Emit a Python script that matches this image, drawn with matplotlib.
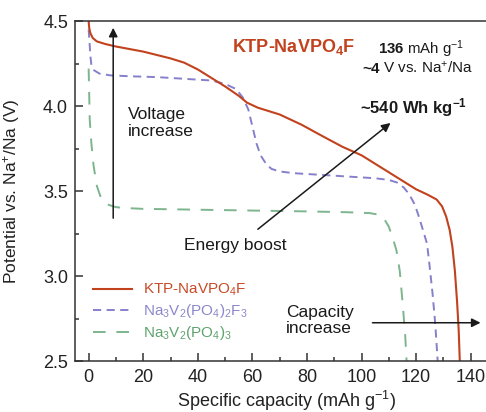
import numpy as np
import matplotlib
matplotlib.use("Agg")
import matplotlib.pyplot as plt

plt.rcParams['font.family'] = ['Liberation Sans', 'DejaVu Sans']
plt.rcParams['mathtext.fontset'] = 'custom'
plt.rcParams['mathtext.rm'] = 'Liberation Sans'
plt.rcParams['mathtext.bf'] = 'Liberation Sans:bold'
plt.rcParams['mathtext.it'] = 'Liberation Sans:italic'
plt.rcParams['mathtext.default'] = 'regular'

# KTP-NaVPO4F discharge curve
ktp_cap = [0, 0.2, 0.6, 1.5, 3, 6, 10, 20, 30, 35, 40, 45, 50, 55, 58, 62, 70, 78, 86, 93,
           100, 106, 111, 116, 120, 124, 127.5, 129.5, 131, 132.3, 133.3, 134.2, 135, 135.6, 136]
ktp_volt = [4.50, 4.46, 4.43, 4.40, 4.38, 4.365, 4.35, 4.32, 4.28, 4.255, 4.215, 4.165, 4.115,
            4.06, 4.02, 3.99, 3.95, 3.89, 3.82, 3.76, 3.71, 3.65, 3.60, 3.55, 3.51, 3.48, 3.45,
            3.41, 3.35, 3.27, 3.17, 3.03, 2.85, 2.68, 2.50]

# Na3V2(PO4)2F3
nvpf_cap = [0, 0.3, 0.6, 1, 2, 4, 8, 15, 25, 35, 45, 50, 54, 56.5, 58.5, 60, 61.5, 63, 65, 67,
            70, 75, 85, 95, 105, 110, 113, 115.5, 117.5, 119.5, 121, 122.5, 124, 125, 126, 127, 127.9]
nvpf_volt = [4.45, 4.38, 4.30, 4.24, 4.21, 4.19, 4.18, 4.175, 4.17, 4.16, 4.15, 4.13, 4.10, 4.05,
             3.98, 3.88, 3.78, 3.71, 3.66, 3.63, 3.615, 3.605, 3.595, 3.585, 3.575, 3.565, 3.55,
             3.52, 3.48, 3.42, 3.35, 3.27, 3.19, 3.05, 2.90, 2.72, 2.50]

# Na3V2(PO4)3
nvp_cap = [0, 0.4, 1, 1.8, 3, 4.5, 7, 10, 13, 20, 40, 60, 80, 95, 103, 106.5, 108.5, 110,
           111.5, 112.8, 114, 115, 116, 116.5]
nvp_volt = [4.22, 3.92, 3.78, 3.65, 3.53, 3.46, 3.42, 3.405, 3.40, 3.395, 3.39, 3.385, 3.38,
            3.375, 3.37, 3.36, 3.33, 3.29, 3.22, 3.15, 3.03, 2.85, 2.65, 2.50]

labels = ['KTP-NaVPO$_4$F', 'Na$_3$V$_2$(PO$_4$)$_2$F$_3$', 'Na$_3$V$_2$(PO$_4$)$_3$']
red, purple, green = '#c2421d', '#8580cc', '#7db58e'

fig = plt.figure(figsize=(4.86, 4.12), dpi=100)
ax = fig.add_axes([75/486, 51/412, 423/486, 340/412])

l3, = ax.plot(nvp_cap, nvp_volt, color=green, lw=1.4, dashes=(6.5, 5.5), label=labels[2])
l2, = ax.plot(nvpf_cap, nvpf_volt, color=purple, lw=1.4, dashes=(4.2, 2.8), label=labels[1])
l1, = ax.plot(ktp_cap, ktp_volt, color=red, lw=1.5, label=labels[0])

ax.set_xlim(-5, 150)
ax.set_ylim(2.5, 4.5)
ax.set_xticks(np.arange(0, 160, 20))
ax.set_xticks(np.arange(10, 150, 20), minor=True)
ax.set_yticks([2.5, 3.0, 3.5, 4.0, 4.5])
ax.set_yticks([2.75, 3.25, 3.75, 4.25], minor=True)
ax.tick_params(which='both', direction='in', top=False, right=False, labelsize=13,
               color='#333333', labelcolor='#222222')
ax.tick_params(which='major', length=6, width=1.1)
ax.tick_params(which='minor', length=3, width=1.1)
ax.tick_params(axis='x', pad=6)
ax.tick_params(axis='y', pad=5)
for s in ax.spines.values():
    s.set_color('#333333')
    s.set_linewidth(1.1)

ax.set_xlabel('Specific capacity (mAh g$^{-1}$)', fontsize=13, color='#222222', labelpad=1.5)
ax.set_ylabel('Potential vs. Na$^{+}$/Na (V)', fontsize=12.5, color='#222222')
ax.yaxis.set_label_coords(-0.125, 0.5)

leg = ax.legend(handles=[l1, l2, l3], loc='center left', bbox_to_anchor=(0.043, 0.144),
                frameon=False, fontsize=11, handlelength=2.55, handletextpad=0.7,
                labelspacing=0.25, borderpad=0, borderaxespad=0)
for t, c in zip(leg.get_texts(), ['#c84a28', '#8c88cc', '#5fa36f']):
    t.set_color(c)

arrow = dict(arrowstyle='-|>', color='#1a1a1a', lw=1.1, mutation_scale=13, shrinkA=0, shrinkB=0)
ax.annotate('', xy=(9, 4.46), xytext=(9, 3.34), arrowprops=arrow)
ax.annotate('', xy=(110.6, 3.9), xytext=(62, 3.275), arrowprops=arrow)
ax.annotate('', xy=(143.6, 2.725), xytext=(104, 2.725), arrowprops=arrow)

ax.text(14.3, 3.9, 'Voltage\nincrease', fontsize=12.5, ha='left', va='center', linespacing=1.1,
        color='#1a1a1a')
ax.text(53.8, 3.18, 'Energy boost', fontsize=12.5, ha='center', va='center', color='#1a1a1a')
ax.text(72.2, 2.74, 'Capacity\nincrease', fontsize=12.5, ha='left', va='center', linespacing=1.1,
        color='#1a1a1a')
ax.text(52.7, 4.347, 'KTP-NaVPO$_4$F', fontsize=13, fontweight='bold', ha='left', va='center',
        color='#c2421d')
ax.text(122.0, 4.335, r'$\mathbf{136}$ mAh g$^{-1}$', fontsize=10.8, ha='center', va='center',
        color='#1a1a1a')
ax.text(106.8, 4.195, '~4', fontsize=11, fontweight='bold', ha='right', va='baseline',
        color='#1a1a1a')
ax.text(107.8, 4.195, 'V vs. Na$^{+}$/Na', fontsize=11, ha='left', va='baseline',
        color='#1a1a1a')
ax.text(119.0, 3.99, '~540 Wh kg$^{-1}$', fontsize=12, fontweight='bold', ha='center', va='center',
        color='#1a1a1a')

fig.savefig('out.png', dpi=100)
